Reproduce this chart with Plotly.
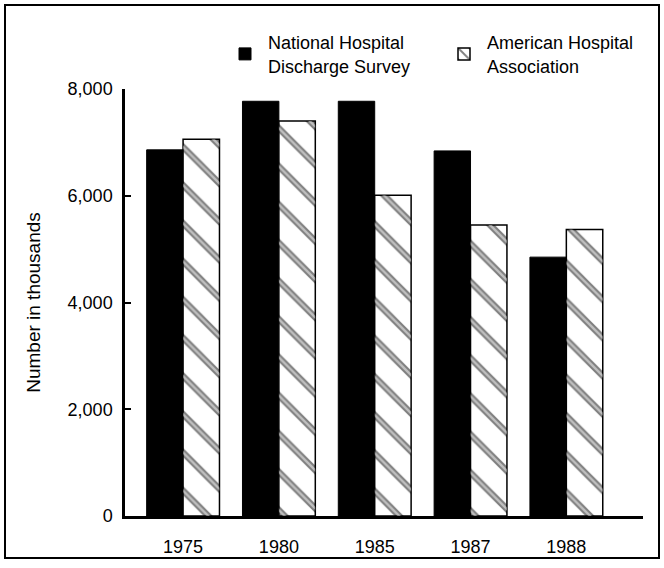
import plotly.graph_objects as go

# Data (number in thousands)
years = ["1975", "1980", "1985", "1987", "1988"]
nhds = [6860, 7770, 7770, 6840, 4850]   # National Hospital Discharge Survey
aha = [7060, 7400, 6010, 5450, 5370]    # American Hospital Association
y_ticks = [0, 2000, 4000, 6000, 8000]

W, H = 664, 568
L, R, T, B = 125, 21, 89, 52
FONT = "Liberation Sans, Arial, sans-serif"
BAR_W = 0.38
HATCH_SIZE = 27

pw, ph = W - L - R, H - T - B


def px_x(v):
    return (v - L) / pw


def px_y(v):
    return (H - B - v) / ph


fig = go.Figure()

fig.add_trace(go.Bar(
    x=years, y=nhds, name="National Hospital<br>Discharge Survey",
    offset=-BAR_W, width=BAR_W, legend="legend",
    marker=dict(color="black", line=dict(color="black", width=1)),
))

fig.add_trace(go.Bar(
    x=years, y=aha, name="American Hospital<br>Association",
    offset=0, width=BAR_W, legend="legend2",
    marker=dict(
        color="white",
        line=dict(color="black", width=1.5),
        pattern=dict(shape="\\", fgcolor="black", bgcolor="white",
                     size=HATCH_SIZE, solidity=0.24, fillmode="overlay"),
    ),
))

# thin white line inside each hatch stroke -> double-line look
fig.add_trace(go.Bar(
    x=years, y=aha, showlegend=False, hoverinfo="skip",
    offset=0, width=BAR_W,
    marker=dict(
        color="rgba(0,0,0,0)",
        line=dict(width=0),
        pattern=dict(shape="\\", fgcolor="white", bgcolor="rgba(0,0,0,0)",
                     size=HATCH_SIZE, solidity=0.09, fillmode="overlay"),
    ),
))

# outer frame around the whole graphic
fig.add_shape(
    type="rect", xref="paper", yref="paper",
    x0=px_x(5), x1=px_x(659), y0=px_y(558), y1=px_y(5),
    line=dict(color="black", width=2), fillcolor="rgba(0,0,0,0)", layer="below",
)

legend_style = dict(
    orientation="h", xanchor="left", yanchor="top", y=px_y(24),
    font=dict(size=18), itemwidth=36, bgcolor="rgba(0,0,0,0)",
)

fig.update_layout(
    width=W, height=H,
    margin=dict(l=L, r=R, t=T, b=B),
    barmode="overlay",
    plot_bgcolor="white", paper_bgcolor="white",
    font=dict(family=FONT, size=18, color="black"),
    showlegend=True,
    legend=dict(x=px_x(222), **legend_style),
    legend2=dict(x=px_x(441), **legend_style),
)

fig.update_xaxes(
    type="category", range=[-0.606, 4.8],
    showline=True, linecolor="black", linewidth=2.5,
    ticks="", showgrid=False, zeroline=False,
    ticklabelstandoff=13,
    tickfont=dict(size=18),
)

fig.update_yaxes(
    range=[0, 8000], tickvals=y_ticks, tickformat=",d",
    showline=True, linecolor="black", linewidth=2.5,
    ticks="inside", ticklen=6, tickwidth=2, tickcolor="black",
    showgrid=False, zeroline=False,
    ticklabelstandoff=6,
    title=dict(text="Number in thousands", standoff=22, font=dict(size=19)),
)

# drop the browser's default body margin so the figure sits at the page origin
fig.write_html(
    "out.html",
    config={"displayModeBar": False},
    post_script="document.body.style.margin='0';",
)
